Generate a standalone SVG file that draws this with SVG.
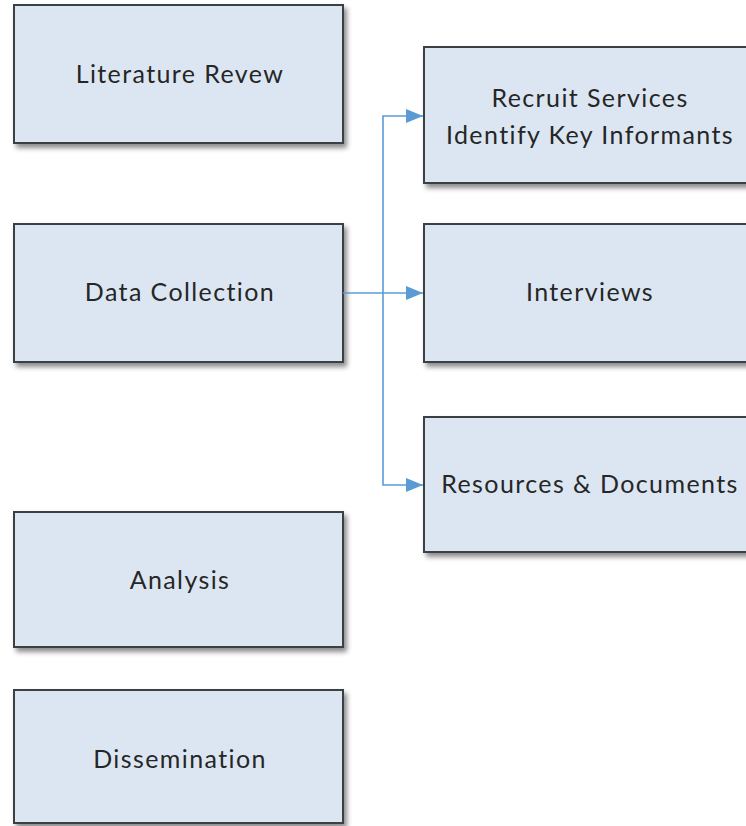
<svg xmlns="http://www.w3.org/2000/svg" width="746" height="826" viewBox="0 0 746 826">
<defs>
<filter id="sh" x="-10%" y="-10%" width="130%" height="130%">
<feDropShadow dx="3" dy="4" stdDeviation="2.5" flood-color="#000" flood-opacity="0.45"/>
</filter>
<marker id="arr" viewBox="0 0 10 10" refX="10" refY="5" markerWidth="17" markerHeight="14" markerUnits="userSpaceOnUse" orient="auto" preserveAspectRatio="none">
<path d="M0,0 L10,5 L0,10 z" fill="#5b9bd5"/>
</marker>
<style>
.box{fill:#dce6f2;stroke:#3a3f44;stroke-width:2;filter:url(#sh)}
.t{font-family:Lato,"Open Sans","Liberation Sans",sans-serif;font-size:25px;letter-spacing:1.4px;fill:#262626;text-anchor:middle}
.c{fill:none;stroke:#5b9bd5;stroke-width:1.6}
</style>
</defs>
<rect width="746" height="826" fill="#ffffff"/>
<g id="literature-review"><rect class="box" x="14" y="5" width="329" height="138"/><text class="t" x="180" y="83">Literature Revew</text></g>
<g id="data-collection"><rect class="box" x="14" y="224" width="329" height="138"/><text class="t" x="180" y="301">Data Collection</text></g>
<g id="analysis"><rect class="box" x="14" y="512" width="329" height="135"/><text class="t" x="180" y="589">Analysis</text></g>
<g id="dissemination"><rect class="box" x="14" y="690" width="329" height="133"/><text class="t" x="180" y="768">Dissemination</text></g>
<g id="recruit"><rect class="box" x="424" y="47" width="330" height="136"/><text class="t" x="590" y="107">Recruit Services</text><text class="t" x="590" y="144">Identify Key Informants</text></g>
<g id="interviews"><rect class="box" x="424" y="224" width="330" height="138"/><text class="t" x="590" y="301">Interviews</text></g>
<g id="resources"><rect class="box" x="424" y="417" width="330" height="135"/><text class="t" x="590" y="493">Resources &amp; Documents</text></g>
<g id="connectors">
<path class="c" d="M343,293 H423" marker-end="url(#arr)"/>
<path class="c" d="M383,293 V116 H423" marker-end="url(#arr)"/>
<path class="c" d="M383,293 V485 H423" marker-end="url(#arr)"/>
</g>
</svg>
